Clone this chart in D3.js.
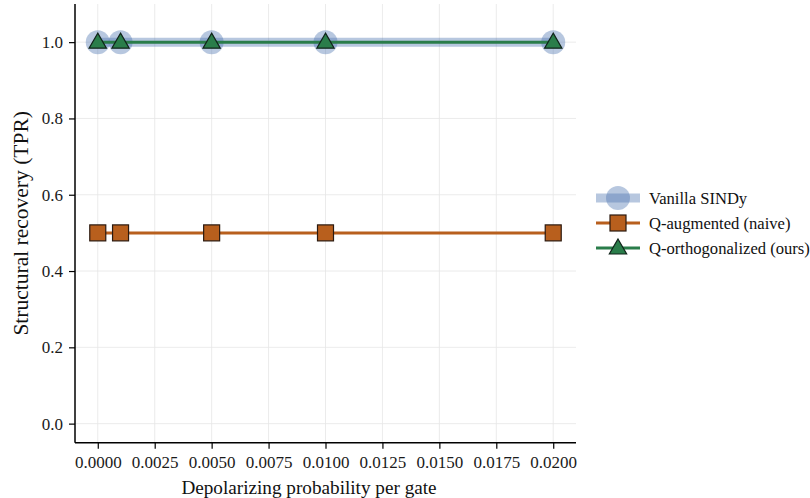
<!DOCTYPE html>
<html><head><meta charset="utf-8">
<script src="https://cdn.jsdelivr.net/npm/d3@7"></script>
<style>body{margin:0;background:#fff}svg{display:block}text{font-family:'Liberation Serif','Times New Roman',serif}</style>
</head><body>
<svg id="c" width="810" height="498"></svg>
<script>
const probs = [0.0, 0.001, 0.005, 0.01, 0.02];
const vanilla = [1.0, 1.0, 1.0, 1.0, 1.0];
const qAugmented = [0.5, 0.5, 0.5, 0.5, 0.5];
const qOrthogonal = [1.0, 1.0, 1.0, 1.0, 1.0];
const xTicks = [0, 0.0025, 0.005, 0.0075, 0.01, 0.0125, 0.015, 0.0175, 0.02];
const yTicks = [0.0, 0.2, 0.4, 0.6, 0.8, 1.0];
const seriesNames = ["Vanilla SINDy", "Q-augmented (naive)", "Q-orthogonalized (ours)"];

const svg = d3.select("#c");
const font = "'Liberation Serif', 'Times New Roman', serif";
const L = 75, R = 576, T = 4, B = 442.7;
const x = d3.scaleLinear().domain([-0.001, 0.021]).range([L, R]);
const y = d3.scaleLinear().domain([-0.05, 1.1]).range([B, T]);

// grid
svg.append("g").selectAll("line").data(xTicks).join("line")
  .attr("x1", d => x(d)).attr("x2", d => x(d)).attr("y1", T).attr("y2", B)
  .attr("stroke", "#e6e6e6").attr("stroke-width", 0.8);
svg.append("g").selectAll("line").data(yTicks).join("line")
  .attr("x1", L).attr("x2", R).attr("y1", d => y(d)).attr("y2", d => y(d))
  .attr("stroke", "#e6e6e6").attr("stroke-width", 0.8);

const blue = "#4c72b0", orange = "#b85f1d", green = "#2a7d4a";
const line = d3.line().x(d => x(d[0])).y(d => y(d[1]));

// vanilla
const vd = probs.map((p, i) => [p, vanilla[i]]);
svg.append("path").attr("d", line(vd)).attr("fill", "none")
  .attr("stroke", blue).attr("stroke-opacity", 0.4).attr("stroke-width", 9);
svg.append("g").selectAll("circle").data(vd).join("circle")
  .attr("cx", d => x(d[0])).attr("cy", d => y(d[1])).attr("r", 12)
  .attr("fill", blue).attr("fill-opacity", 0.4);

// Q-augmented
const ad = probs.map((p, i) => [p, qAugmented[i]]);
svg.append("path").attr("d", line(ad)).attr("fill", "none")
  .attr("stroke", orange).attr("stroke-width", 3);
svg.append("g").selectAll("rect").data(ad).join("rect")
  .attr("x", d => x(d[0]) - 8).attr("y", d => y(d[1]) - 8).attr("width", 16).attr("height", 16)
  .attr("fill", orange).attr("stroke", "#2b1a10").attr("stroke-width", 1.2);

// Q-orthogonalized
const od = probs.map((p, i) => [p, qOrthogonal[i]]);
svg.append("path").attr("d", line(od)).attr("fill", "none")
  .attr("stroke", green).attr("stroke-width", 3);
const tri = d3.symbol().type(d3.symbolTriangle).size(130);
svg.append("g").selectAll("path").data(od).join("path")
  .attr("d", tri).attr("transform", d => `translate(${x(d[0])},${y(d[1]) + 1})`)
  .attr("fill", green).attr("stroke", "#10241a").attr("stroke-width", 1.2);

// axes
const xa = svg.append("g").attr("transform", `translate(0,${B})`)
  .call(d3.axisBottom(x).tickValues(xTicks).tickFormat(d3.format(".4f")).tickSize(6).tickPadding(7));
const ya = svg.append("g").attr("transform", `translate(${L},0)`)
  .call(d3.axisLeft(y).tickValues(yTicks).tickFormat(d3.format(".1f")).tickSize(6).tickPadding(6));
[xa, ya].forEach(a => {
  a.attr("font-family", null);
  a.select(".domain").attr("stroke", "#000").attr("stroke-width", 1.5);
  a.selectAll(".tick line").attr("stroke", "#000").attr("stroke-width", 1.2);
  a.selectAll(".tick text").style("font-family", font).attr("font-size", 17).attr("fill", "#1a1a1a");
});
ya.select(".domain").attr("d", `M0,${T}V${B}`);
xa.select(".domain").attr("d", `M${L},0H${R}`);

svg.append("text").attr("x", 309).attr("y", 494).attr("text-anchor", "middle")
  .style("font-family", font).attr("font-size", 19.2).attr("fill", "#111").text("Depolarizing probability per gate");
svg.append("text").attr("transform", `translate(28,${(T + B) / 2}) rotate(-90)`).attr("text-anchor", "middle")
  .style("font-family", font).attr("font-size", 21.5).attr("fill", "#111").text("Structural recovery (TPR)");

// legend
const lg = svg.append("g").attr("transform", "translate(596,0)");
const rows = [198, 223, 248];
lg.append("line").attr("x1", 0).attr("x2", 44).attr("y1", rows[0]).attr("y2", rows[0])
  .attr("stroke", blue).attr("stroke-opacity", 0.4).attr("stroke-width", 9);
lg.append("circle").attr("cx", 22).attr("cy", rows[0]).attr("r", 12).attr("fill", blue).attr("fill-opacity", 0.4);
lg.append("line").attr("x1", 0).attr("x2", 44).attr("y1", rows[1]).attr("y2", rows[1])
  .attr("stroke", orange).attr("stroke-width", 3);
lg.append("rect").attr("x", 14).attr("y", rows[1] - 8).attr("width", 16).attr("height", 16)
  .attr("fill", orange).attr("stroke", "#2b1a10").attr("stroke-width", 1.2);
lg.append("line").attr("x1", 0).attr("x2", 44).attr("y1", rows[2]).attr("y2", rows[2])
  .attr("stroke", green).attr("stroke-width", 3);
lg.append("path").attr("d", tri).attr("transform", `translate(22,${rows[2] + 1})`)
  .attr("fill", green).attr("stroke", "#10241a").attr("stroke-width", 1.2);
lg.selectAll("text.l").data(seriesNames).join("text")
  .attr("x", 53).attr("y", (d, i) => rows[i] + 6).style("font-family", font).attr("font-size", 16.6).attr("fill", "#111").text(d => d);
</script>
</body></html>
